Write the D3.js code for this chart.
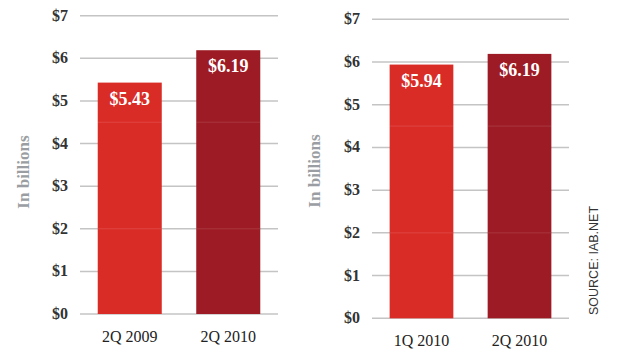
<!DOCTYPE html>
<html>
<head>
<meta charset="utf-8">
<script src="https://cdn.jsdelivr.net/npm/d3@7"></script>
<style>
  body { margin: 0; background: #fff; }
  svg { display: block; }
</style>
</head>
<body>
<svg id="chart" width="620" height="354"></svg>
<script>
// data
const leftCategories = ["2Q 2009", "2Q 2010"];
const leftValues = [5.43, 6.19];
const rightCategories = ["1Q 2010", "2Q 2010"];
const rightValues = [5.94, 6.19];
const tickValues = [0, 1, 2, 3, 4, 5, 6, 7];
const tickLabels = ["$0", "$1", "$2", "$3", "$4", "$5", "$6", "$7"];
const valueLabels = { left: ["$5.43", "$6.19"], right: ["$5.94", "$6.19"] };
const barColors = ["#da2c27", "#9d1b24"];
const seams = [2, 4.5];

const svg = d3.select("#chart");
const serif = "'Liberation Serif', Georgia, serif";

function drawPanel(cats, vals, labels, x0, x1, yBottom, yTop, tickX, axisTitleX, axisTitleY) {
    const y = d3.scaleLinear().domain([0, 7]).range([yBottom, yTop]);
    const x = d3.scaleBand().domain(cats).range([x0, x1])
        .paddingInner(0.35).paddingOuter(0.18);

    const g = svg.append("g");

    // gridlines
    g.selectAll("line.grid")
        .data(tickValues)
        .enter()
        .append("line")
        .attr("x1", x0)
        .attr("x2", x1)
        .attr("y1", d => y(d))
        .attr("y2", d => y(d))
        .attr("stroke", "#c4c4c4")
        .attr("stroke-width", 1.5);

    // tick labels
    g.selectAll("text.tick")
        .data(tickValues)
        .enter()
        .append("text")
        .text((d, i) => tickLabels[i])
        .attr("x", tickX)
        .attr("y", d => y(d) + 5)
        .attr("text-anchor", "end")
        .attr("font-family", serif)
        .attr("font-weight", "bold")
        .attr("font-size", "16px")
        .attr("fill", "#333");

    // bars
    g.selectAll("rect.bar")
        .data(vals)
        .enter()
        .append("rect")
        .attr("x", (d, i) => x(cats[i]))
        .attr("width", x.bandwidth())
        .attr("y", d => y(d))
        .attr("height", d => y(0) - y(d))
        .attr("fill", (d, i) => barColors[i]);

    // faint seams across bars
    seams.forEach(s => {
        vals.forEach((v, i) => {
            g.append("line")
                .attr("x1", x(cats[i]))
                .attr("x2", x(cats[i]) + x.bandwidth())
                .attr("y1", y(s))
                .attr("y2", y(s))
                .attr("stroke", "#fff")
                .attr("stroke-opacity", 0.12)
                .attr("stroke-width", 1);
        });
    });

    // value labels
    g.selectAll("text.val")
        .data(vals)
        .enter()
        .append("text")
        .text((d, i) => labels[i])
        .attr("x", (d, i) => x(cats[i]) + x.bandwidth() / 2)
        .attr("y", d => y(d) + 22)
        .attr("text-anchor", "middle")
        .attr("font-family", serif)
        .attr("font-weight", "bold")
        .attr("font-size", "18px")
        .attr("fill", "#fff");

    // category labels
    g.selectAll("text.cat")
        .data(cats)
        .enter()
        .append("text")
        .text(d => d)
        .attr("x", d => x(d) + x.bandwidth() / 2)
        .attr("y", yBottom + 28)
        .attr("text-anchor", "middle")
        .attr("font-family", serif)
        .attr("font-size", "16px")
        .attr("fill", "#222");

    // axis title
    g.append("text")
        .text("In billions")
        .attr("transform", `translate(${axisTitleX},${axisTitleY}) rotate(-90)`)
        .attr("text-anchor", "middle")
        .attr("font-family", serif)
        .attr("font-weight", "bold")
        .attr("font-size", "17px")
        .attr("fill", "#9a9ea3");
}

drawPanel(leftCategories, leftValues, valueLabels.left, 80, 278, 314, 15.7, 68, 29, 172);
drawPanel(rightCategories, rightValues, valueLabels.right, 372, 569, 318.3, 19.3, 360, 320, 171);

svg.append("text")
    .text("SOURCE: IAB.NET")
    .attr("transform", "translate(598,315) rotate(-90)")
    .attr("text-anchor", "start")
    .attr("font-family", "Arial, 'Liberation Sans', sans-serif")
    .attr("font-size", "12.5px")
    .attr("fill", "#333");
</script>
</body>
</html>
